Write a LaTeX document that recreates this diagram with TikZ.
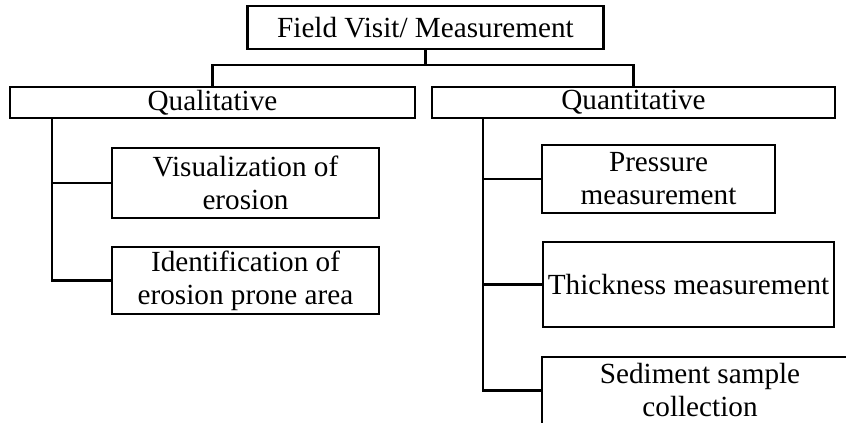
\documentclass[tikz,border=0pt]{standalone}
\usepackage{fontspec}
\setmainfont{Liberation Serif}
\tikzset{
  box/.style={draw, line width=1.4pt, align=center, inner sep=0pt,
    font=\fontsize{14.6pt}{16.5pt}\selectfont},
  link/.style={line width=1.4pt}
}
\begin{document}
\begin{tikzpicture}[x=0.5pt,y=-0.5pt]
   \useasboundingbox (0,0) rectangle (846,423);
   \clip (0,0) rectangle (846,423);
   % top level
   \node[box, minimum width=178pt, minimum height=21.5pt] (visit) at (425.5,27.5) {Field Visit/ Measurement};
   \node[box, minimum width=202.5pt, minimum height=15.5pt] (qual) at (212.5,102.5) {Qualitative};
   \node[box, minimum width=201.5pt, minimum height=15.5pt] (quant) at (633.5,102.5) {Quantitative};
   \coordinate (split) at (425.5,65);
   \draw[link] (visit.south) -- (split);
   \draw[link] (qual.north) |- (split) -| (quant.north);
   % qualitative side
   \coordinate (qlbus) at (52,0);
   \foreach \name/\y/\h/\txt in {vis/183/35/Visualization of\\erosion, ident/280.5/33.5/Identification of\\erosion prone area}
   {
       \node[box, minimum width=133.5pt, minimum height=\h pt] (\name) at (245.5,\y) {\txt};
       \draw[link] (\name.west) -| (qual.south -| qlbus);
   }
   % quantitative side
   \coordinate (qnbus) at (483,0);
   \foreach \name/\x/\y/\w/\h/\txt in {press/658.5/179/116.5/34/Pressure\\measurement, thick/688.5/284.5/145.5/42.5/Thickness measurement, sed/700/390.5/158/33.5/Sediment sample\\collection}
   {
       \node[box, minimum width=\w pt, minimum height=\h pt] (\name) at (\x,\y) {\txt};
       \draw[link] (\name.west) -| (quant.south -| qnbus);
   }
\end{tikzpicture}
\end{document}
